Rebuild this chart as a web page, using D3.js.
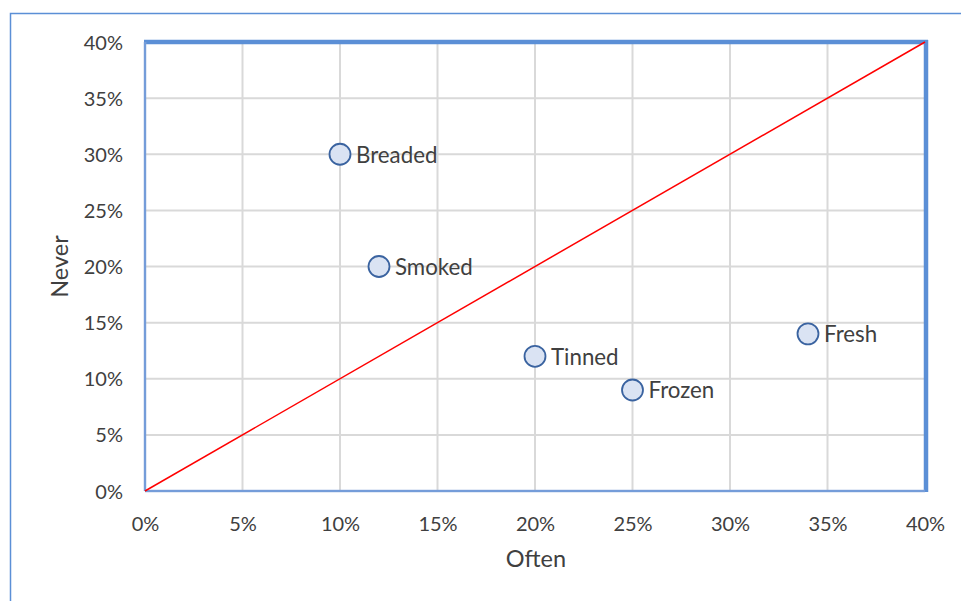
<!DOCTYPE html>
<html><head><meta charset="utf-8">
<script src="https://cdn.jsdelivr.net/npm/d3@7"></script>
<style>body{margin:0;background:#fff;} svg{display:block;}</style>
</head><body>
<svg id="c" width="961" height="601"></svg>
<script>
const names = ["Breaded","Smoked","Tinned","Frozen","Fresh"];
const often = [0.10,0.12,0.20,0.25,0.34];
const never = [0.30,0.20,0.12,0.09,0.14];
const ticks = [0,0.05,0.10,0.15,0.20,0.25,0.30,0.35,0.40];
const refLine = [[0,0],[0.40,0.40]];

const svg = d3.select("#c");
const font = "Lato, sans-serif";
const L=145, R=925, T=42, B=491;
const x = d3.scaleLinear().domain([0,0.40]).range([L,R]);
const y = d3.scaleLinear().domain([0,0.40]).range([B,T]);

// outer border
svg.append("rect").attr("x",10.5).attr("y",13.5).attr("width",980).attr("height",620)
  .attr("fill","none").attr("stroke","#5b8fd6").attr("stroke-width",1.5);

// grid
const g = svg.append("g");
g.selectAll(".vx").data(ticks.slice(1,-1)).join("line")
  .attr("x1",d=>x(d)).attr("x2",d=>x(d)).attr("y1",T).attr("y2",B)
  .attr("stroke","#d9d9d9").attr("stroke-width",2);
g.selectAll(".hy").data(ticks.slice(1,-1)).join("line")
  .attr("y1",d=>y(d)).attr("y2",d=>y(d)).attr("x1",L).attr("x2",R)
  .attr("stroke","#d9d9d9").attr("stroke-width",2);

// plot border
const bc="#5b8fd6";
svg.append("line").attr("x1",L-1).attr("x2",R+3).attr("y1",T).attr("y2",T).attr("stroke",bc).attr("stroke-width",4.5);
svg.append("line").attr("x1",R+1).attr("x2",R+1).attr("y1",T-2).attr("y2",B+1).attr("stroke",bc).attr("stroke-width",4.5);
svg.append("line").attr("x1",L).attr("x2",L).attr("y1",T).attr("y2",B).attr("stroke","#8faadc").attr("stroke-width",2.5);
svg.append("line").attr("x1",L).attr("x2",R).attr("y1",B).attr("y2",B).attr("stroke","#8faadc").attr("stroke-width",2.5);
svg.append("line").attr("x1",L).attr("x2",L).attr("y1",T).attr("y2",B).attr("stroke",bc).attr("stroke-width",1);
svg.append("line").attr("x1",L).attr("x2",R).attr("y1",B).attr("y2",B).attr("stroke",bc).attr("stroke-width",1);

// reference line
svg.append("path").datum(refLine)
  .attr("d",d3.line().x(d=>x(d[0])).y(d=>y(d[1])))
  .attr("stroke","#ff0000").attr("stroke-width",1.5).attr("fill","none");

// axes labels
const fmt = d3.format(".0%");
const xa = d3.axisBottom(x).tickValues(ticks).tickFormat(fmt).tickSize(0).tickPadding(0);
const xg = svg.append("g").attr("transform",`translate(0,${B})`).call(xa);
xg.select(".domain").remove();
xg.selectAll("text").attr("dy",null).attr("y",40).attr("font-family",font).attr("font-size",20).attr("fill","#404040");
const ya = d3.axisLeft(y).tickValues(ticks).tickFormat(fmt).tickSize(0).tickPadding(0);
const yg = svg.append("g").attr("transform",`translate(123,0)`).call(ya);
yg.select(".domain").remove();
yg.selectAll("text").attr("dy","0.35em").attr("x",0).attr("font-family",font).attr("font-size",20).attr("fill","#404040");

svg.append("text").attr("x",536).attr("y",567).attr("text-anchor","middle")
  .attr("font-family",font).attr("font-size",23.5).attr("fill","#404040").text("Often");
svg.append("text").attr("transform",`translate(68,${(T+B)/2}) rotate(-90)`).attr("text-anchor","middle")
  .attr("font-family",font).attr("font-size",23.5).attr("fill","#404040").text("Never");

// points
const data = names.map((n,i)=>({n,o:often[i],v:never[i]}));
const pg = svg.append("g");
pg.selectAll("circle").data(data).join("circle")
  .attr("cx",d=>x(d.o)).attr("cy",d=>y(d.v)).attr("r",10.5)
  .attr("fill","#dae3f3").attr("stroke","#3a63a0").attr("stroke-width",1.8);
pg.selectAll("text").data(data).join("text")
  .attr("x",d=>x(d.o)+16).attr("y",d=>y(d.v)).attr("dy","0.37em")
  .attr("font-family",font).attr("font-size",22.3).attr("fill","#404040").text(d=>d.n);
</script>
</body></html>
